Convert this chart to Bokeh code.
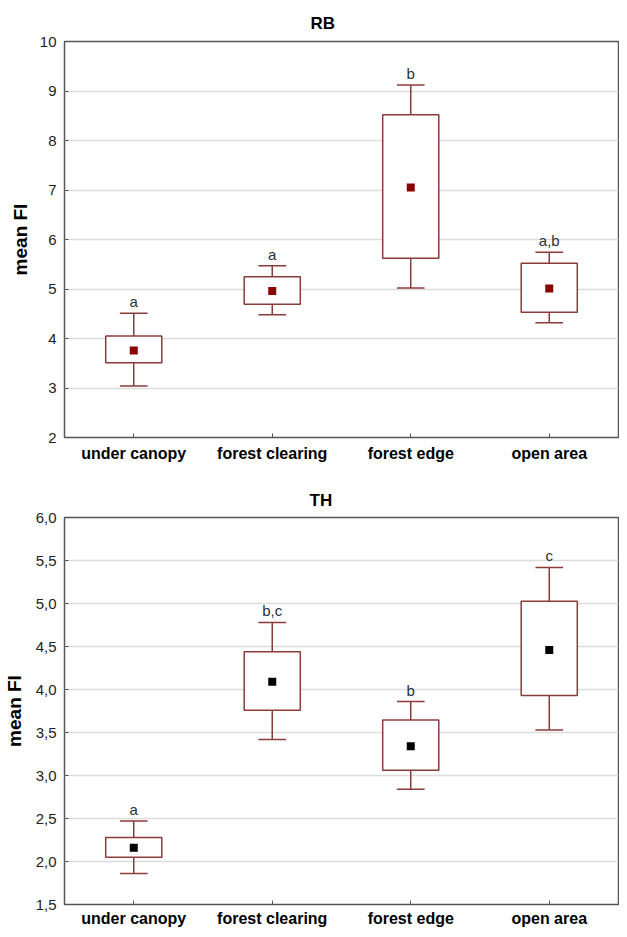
from bokeh.plotting import figure
from bokeh.models import (ColumnDataSource, Range1d, FactorRange, FixedTicker,
                          LabelSet)
from bokeh.transform import dodge
from bokeh.layouts import column
from bokeh.embed import file_html
from bokeh.resources import INLINE
from bokeh.core.properties import value

# ---------------- data ----------------
categories = ["under canopy", "forest clearing", "forest edge", "open area"]

rb_mean = [3.76, 4.96, 7.05, 5.01]
rb_box_low = [3.51, 4.69, 5.62, 4.53]
rb_box_high = [4.05, 5.25, 8.52, 5.52]
rb_whisk_low = [3.04, 4.48, 5.02, 4.32]
rb_whisk_high = [4.51, 5.47, 9.12, 5.74]
rb_letters = ["a", "a", "b", "a,b"]
rb_ticks = [2, 3, 4, 5, 6, 7, 8, 9, 10]
rb_tick_labels = ["2", "3", "4", "5", "6", "7", "8", "9", "10"]

th_mean = [2.16, 4.09, 3.34, 4.46]
th_box_low = [2.05, 3.76, 3.06, 3.93]
th_box_high = [2.28, 4.44, 3.645, 5.025]
th_whisk_low = [1.86, 3.42, 2.84, 3.53]
th_whisk_high = [2.47, 4.78, 3.86, 5.42]
th_letters = ["a", "b,c", "b", "c"]
th_ticks = [1.5, 2.0, 2.5, 3.0, 3.5, 4.0, 4.5, 5.0, 5.5, 6.0]
th_tick_labels = ["1,5", "2,0", "2,5", "3,0", "3,5", "4,0", "4,5", "5,0", "5,5", "6,0"]

FONT = "Liberation Sans"
BOX_COLOR = "#8c3b3b"
FRAME_COLOR = "#555555"


def make_panel(title, mean, blo, bhi, wlo, whi, letters, ticks, tick_labels,
               yr, mean_color, height, border_top, border_bottom, border_left,
               title_offset, title_standoff, label_standoff, xlabel_standoff):
    src = ColumnDataSource(dict(cat=categories, mean=mean, blo=blo, bhi=bhi,
                                wlo=wlo, whi=whi, lab=letters))
    p = figure(x_range=FactorRange(*categories), y_range=Range1d(*yr),
               width=619, height=height, output_backend="svg",
               toolbar_location=None, min_border_top=border_top,
               min_border_bottom=border_bottom, min_border_left=border_left,
               min_border_right=1)
    p.title.text = title
    p.title.text_font = FONT
    p.title.text_font_size = "17px"
    p.title.text_font_style = "bold"
    p.title.text_color = "#000000"
    p.title.align = "left"
    p.title.offset = title_offset
    p.title.standoff = title_standoff

    p.outline_line_color = FRAME_COLOR
    p.outline_line_width = 1.5
    p.background_fill_color = "white"
    p.border_fill_color = "white"

    p.xgrid.grid_line_color = None
    p.ygrid.grid_line_color = "#dcdcdc"
    p.ygrid.grid_line_width = 1.5

    p.yaxis.ticker = FixedTicker(ticks=ticks)
    p.yaxis.major_label_overrides = dict(zip(ticks, tick_labels))
    for ax in (p.xaxis[0], p.yaxis[0]):
        ax.axis_line_color = None
        ax.major_tick_in = 4
        ax.major_tick_out = 0
        ax.major_tick_line_color = FRAME_COLOR
        ax.minor_tick_line_color = None
        ax.major_label_text_font = FONT
        ax.major_label_standoff = 8
    p.yaxis.major_label_text_font_size = "15px"
    p.yaxis.major_label_text_color = "#222222"
    p.xaxis.major_label_text_font_size = "16px"
    p.xaxis.major_label_text_font_style = "bold"
    p.xaxis.major_label_text_color = "#000000"
    p.xaxis.major_label_standoff = xlabel_standoff
    p.yaxis.axis_label = "mean FI"
    p.yaxis.axis_label_text_font = FONT
    p.yaxis.axis_label_text_font_size = "19px"
    p.yaxis.axis_label_text_font_style = "bold"
    p.yaxis.axis_label_text_color = "#000000"
    p.yaxis.axis_label_standoff = label_standoff

    # whisker stems
    p.segment(x0="cat", y0="wlo", x1="cat", y1="whi", source=src,
              line_color=BOX_COLOR, line_width=1.5)
    # caps
    for fld in ("wlo", "whi"):
        p.segment(x0=dodge("cat", -0.1, range=p.x_range), y0=fld,
                  x1=dodge("cat", 0.1, range=p.x_range), y1=fld, source=src,
                  line_color=BOX_COLOR, line_width=1.5)
    # boxes
    p.vbar(x="cat", bottom="blo", top="bhi", width=0.405, source=src,
           fill_color="white", line_color=BOX_COLOR, line_width=1.5)
    # means
    p.scatter(x="cat", y="mean", source=src, marker="square", size=8,
              fill_color=mean_color, line_color=None)
    # letters
    labels = LabelSet(x="cat", y="whi", text="lab", source=src,
                      text_align="center", text_baseline="alphabetic",
                      y_offset=6, text_font=value(FONT),
                      text_font_size=value("15px"), text_color="#2b2f3a")
    p.add_layout(labels)
    return p


p1 = make_panel("RB", rb_mean, rb_box_low, rb_box_high, rb_whisk_low,
                rb_whisk_high, rb_letters, rb_ticks, rb_tick_labels, (2, 10),
                "#8b0000", height=466, border_top=41, border_bottom=29,
                border_left=56, title_offset=246, title_standoff=18,
                label_standoff=6, xlabel_standoff=7)
p2 = make_panel("TH", th_mean, th_box_low, th_box_high, th_whisk_low,
                th_whisk_high, th_letters, th_ticks, th_tick_labels, (1.5, 6.0),
                "#000000", height=463, border_top=51, border_bottom=23,
                border_left=60, title_offset=245, title_standoff=16,
                label_standoff=8, xlabel_standoff=5)

layout = column(p1, p2, spacing=0)
open("out.html", "w").write(file_html(layout, INLINE))
